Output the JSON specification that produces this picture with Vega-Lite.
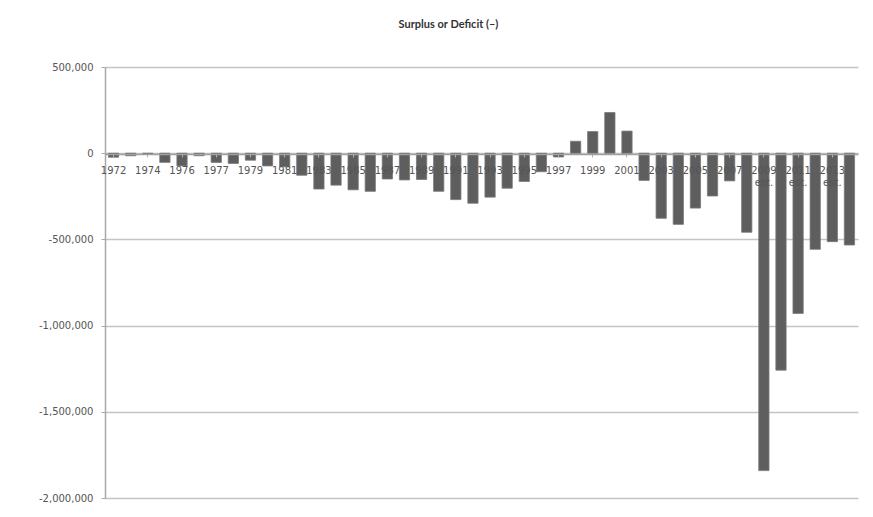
{
  "$schema": "https://vega.github.io/schema/vega-lite/v6.json",
  "autosize": {"type": "none"},
  "width": 753,
  "height": 431,
  "padding": {"left": 105, "top": 67, "right": 15, "bottom": 19},
  "background": "white",
  "title": {
    "text": "Surplus or Deficit (–)",
    "font": "Lato",
    "fontSize": 11,
    "fontWeight": "bold",
    "color": "#333333",
    "anchor": "middle",
    "offset": 32,
    "dx": -33
  },
  "data": {
    "values": [
      {"year": "1972", "value": -23373},
      {"year": "1973", "value": -14908},
      {"year": "1974", "value": -6135},
      {"year": "1975", "value": -53242},
      {"year": "1976", "value": -73732},
      {"year": "TQ", "value": -14744},
      {"year": "1977", "value": -53659},
      {"year": "1978", "value": -59185},
      {"year": "1979", "value": -40726},
      {"year": "1980", "value": -73830},
      {"year": "1981", "value": -78968},
      {"year": "1982", "value": -127977},
      {"year": "1983", "value": -207802},
      {"year": "1984", "value": -185367},
      {"year": "1985", "value": -212308},
      {"year": "1986", "value": -221227},
      {"year": "1987", "value": -149730},
      {"year": "1988", "value": -155178},
      {"year": "1989", "value": -152639},
      {"year": "1990", "value": -221036},
      {"year": "1991", "value": -269238},
      {"year": "1992", "value": -290321},
      {"year": "1993", "value": -255051},
      {"year": "1994", "value": -203186},
      {"year": "1995", "value": -163952},
      {"year": "1996", "value": -107431},
      {"year": "1997", "value": -21884},
      {"year": "1998", "value": 69270},
      {"year": "1999", "value": 125610},
      {"year": "2000", "value": 236241},
      {"year": "2001", "value": 128236},
      {"year": "2002", "value": -157758},
      {"year": "2003", "value": -377585},
      {"year": "2004", "value": -412727},
      {"year": "2005", "value": -318346},
      {"year": "2006", "value": -248181},
      {"year": "2007", "value": -160701},
      {"year": "2008", "value": -458553},
      {"year": "2009 est.", "value": -1841189},
      {"year": "2010 est.", "value": -1258380},
      {"year": "2011 est.", "value": -929329},
      {"year": "2012 est.", "value": -557420},
      {"year": "2013 est.", "value": -512999},
      {"year": "2014 est.", "value": -532573}
    ]
  },
  "mark": {"type": "bar", "color": "#5e5e5e", "stroke": "#7a7a7a", "strokeWidth": 0.8},
  "encoding": {
    "x": {
      "field": "year",
      "type": "nominal",
      "sort": null,
      "scale": {"paddingInner": 0.4, "paddingOuter": 0.2},
      "axis": {
        "title": null,
        "orient": "bottom",
        "offset": -344,
        "zindex": 1,
        "values": ["1972","1974","1976","1977","1979","1981","1983","1985","1987","1989","1991","1993","1995","1997","1999","2001","2003","2005","2007","2009 est.","2011 est.","2013 est."],
        "labelExpr": "split(datum.label, ' ')",
        "labelAngle": 0,
        "labelFont": "DejaVu Sans",
        "labelFontSize": 10,
        "labelColor": "#555555",
        "labelPadding": 8,
        "labelLineHeight": 12,
        "labelOverlap": false,
        "domainColor": "#a0a0a0",
        "domainWidth": 1.5,
        "tickColor": "#b0b0b0",
        "tickSize": 3,
        "grid": false
      }
    },
    "y": {
      "field": "value",
      "type": "quantitative",
      "scale": {"domain": [-2000000, 500000], "nice": false},
      "axis": {
        "title": null,
        "values": [500000, 0, -500000, -1000000, -1500000, -2000000],
        "labelExpr": "(datum.value < 0 ? '-' : '') + format(abs(datum.value), ',.0f')",
        "labelFont": "DejaVu Sans",
        "labelFontSize": 10,
        "labelColor": "#555555",
        "labelPadding": 8,
        "domainColor": "#a8a8a8",
        "domainWidth": 1.5,
        "tickColor": "#a8a8a8",
        "tickSize": 4,
        "grid": true,
        "gridColor": "#c4c4c4",
        "gridWidth": 1.5
      }
    }
  },
  "config": {"view": {"stroke": null}}
}
